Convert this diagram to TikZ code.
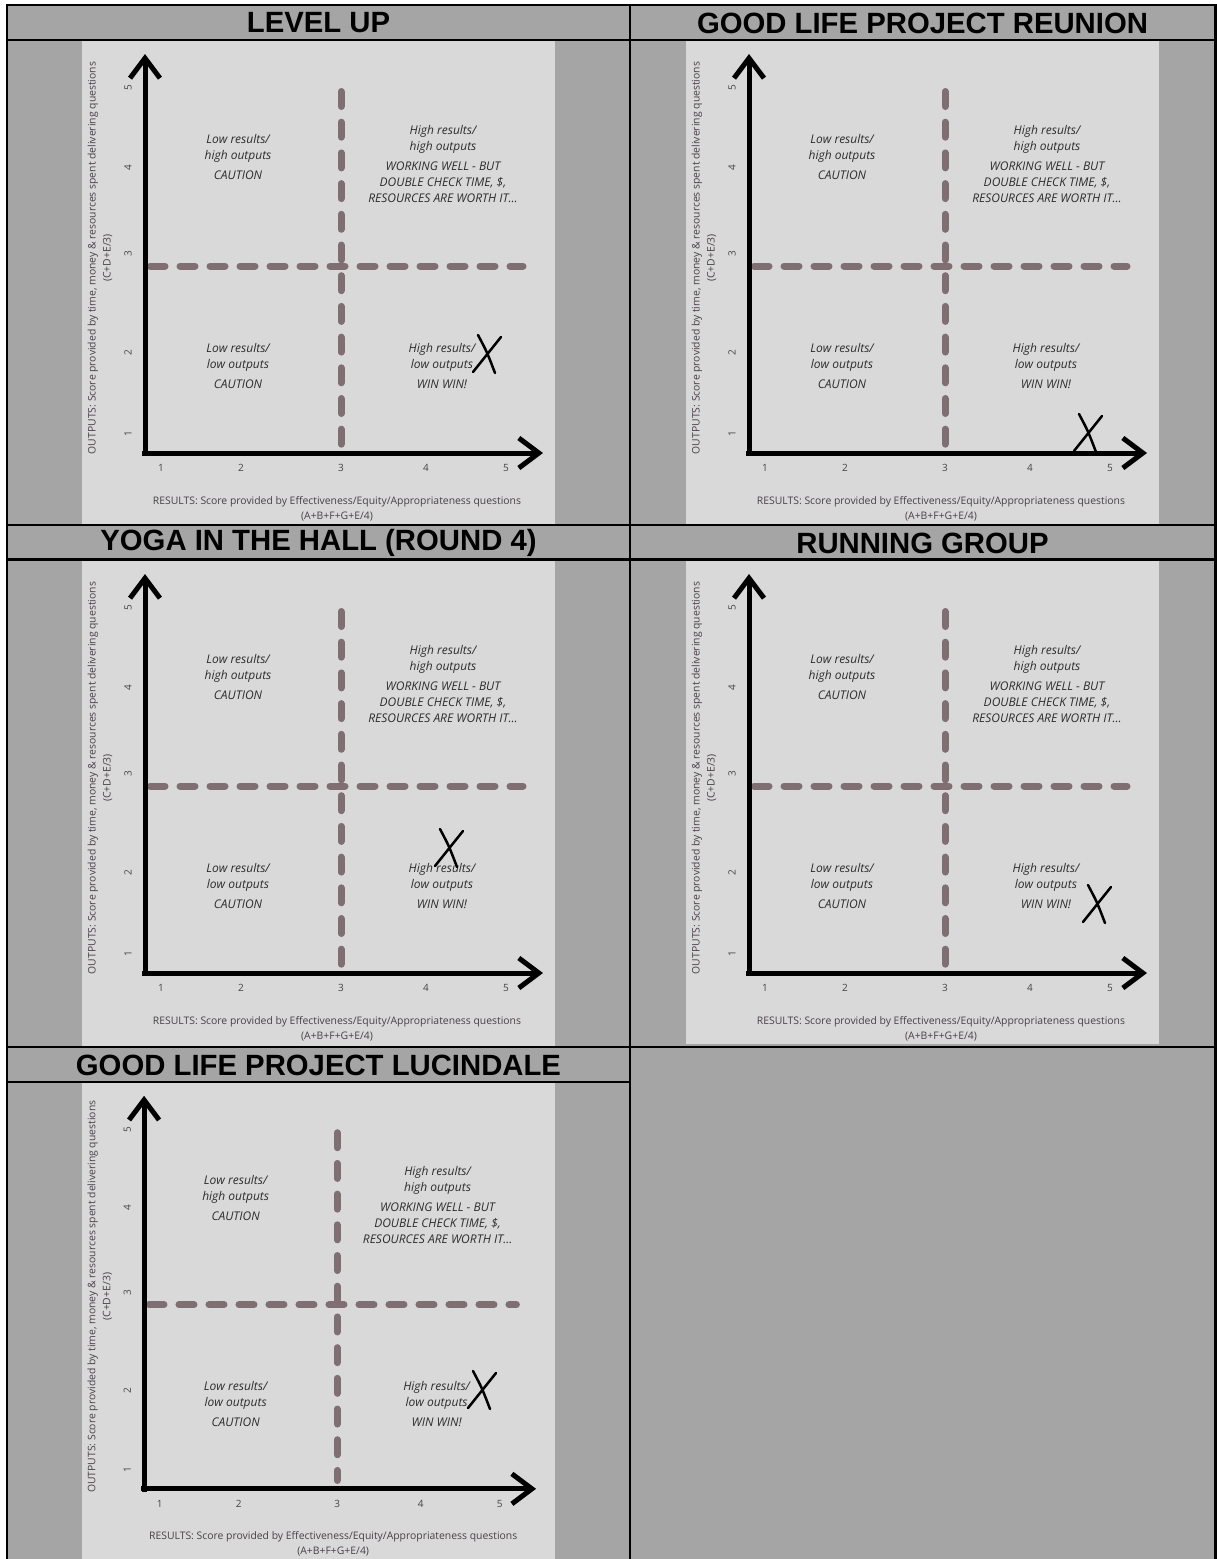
\documentclass[tikz,border=0pt]{standalone}
\usepackage{fontspec}
\setmainfont{Open Sans}
\newfontfamily\titlefont{Liberation Sans}
\usetikzlibrary{arrows.meta}

\definecolor{cellgray}{RGB}{165,165,165}
\definecolor{panelgray}{RGB}{217,217,217}
\definecolor{dashmauve}{RGB}{127,111,114}
\definecolor{labelgray}{RGB}{72,64,72}
\definecolor{textgray}{RGB}{45,45,45}

\tikzset{
  gridline/.style={line width=2.5pt, black},
  titletext/.style={font=\titlefont\bfseries\fontsize{29.3}{31}\selectfont},
  axisline/.style={line width=5pt, black, -{Straight Barb[length=20pt,width=30pt]}},
  divline/.style={line width=7pt, dashmauve, line cap=round, dash pattern=on 15pt off 15.7pt},
  quadtext/.style={font=\fontsize{12}{16}\selectfont\itshape, text=textgray, align=center},
  ticktext/.style={font=\fontsize{10}{11}\selectfont, text=labelgray},
  axistext/.style={font=\fontsize{10.4}{15}\selectfont, text=labelgray, align=center},
  xmark/.style={line width=2.5pt, line cap=round, black}
}

\begin{document}
\begin{tikzpicture}[x=1pt, y=-1pt]
    % 画布大小（按像素）
    \useasboundingbox (0,0) rectangle (1217,1559);

    % 表格底色
    \fill[cellgray] (7,5) rectangle (1215.5,1559);

    % 每个图表：编号/左上角x/左上角y/下边/缩放/X标记x/X标记y
    \foreach \k/\px/\py/\pb/\s/\mx/\my in {
        1/82/40/524/1/487/354,
        2/686/40/524/1/1088/433,
        3/82/560/1046/1/449/848,
        4/686/560/1044/1/1097/904,
        5/82/1082/1559/0.985/482/1390} {

        % 浅灰背景
        \fill[panelgray] (\px,\py) rectangle ({\px+473},\pb);

        \begin{scope}[shift={(\px,\py)}, scale=\s]
            % 分隔虚线
            \draw[divline] (259,51.5) -- (259,404.5);
            \draw[divline, dash pattern=on 15pt off 15pt] (68,226) -- (441,226);

            % 坐标轴
            \draw[axisline] (63,416) -- (63,14);
            \draw[axisline] (60,413) -- (461,413);

            % 刻度数字
            \foreach \t/\xx in {1/79,2/159,3/259,4/344,5/424}
                \node[ticktext] (xt-\k-\t) at (\xx,428) {\t};
            \foreach \t/\yy in {1/394,2/313,3/214,4/128,5/48}
                \node[ticktext, rotate=90] (yt-\k-\t) at (46,\yy) {\t};

            % 轴标题
            \node[axistext, rotate=90] (ylab-\k) at (18,218)
                {OUTPUTS: Score provided by time, money \& resources spent delivering questions\\(C+D+E/3)};
            \node[axistext] (xlab-\k) at (255,469)
                {RESULTS: Score provided by Effectiveness/Equity/Appropriateness questions\\(A+B+F+G+E/4)};

            % 四个象限的文字
            \node[quadtext, anchor=north] (ul-\k) at (156,91)
                {Low results/\\high outputs\\[4pt]CAUTION};
            \node[quadtext, anchor=north] (ur-\k) at (361,82)
                {High results/\\high outputs\\[4pt]WORKING WELL - BUT\\DOUBLE CHECK TIME, \$,\\RESOURCES ARE WORTH IT...};
            \node[quadtext, anchor=north] (ll-\k) at (156,300)
                {Low results/\\low outputs\\[4pt]CAUTION};
            \node[quadtext, anchor=north] (lr-\k) at (360,300)
                {High results/\\low outputs\\[4pt]WIN WIN!};
        \end{scope}

        % 手写的 X
        \draw[xmark] ({\mx-9},{\my-19}) .. controls ({\mx},{\my-2}) .. ({\mx+8},{\my+19});
        \draw[xmark] ({\mx+14},{\my-17}) -- ({\mx-14},{\my+18});
    }

    % 表格线
    \draw[gridline] (7,1559) -- (7,5) -- (1215.5,5) -- (1215.5,1559);
    \draw[gridline] (630,5) -- (630,1559);
    \draw[gridline] (7,40) -- (1215.5,40);
    \draw[gridline] (7,525) -- (1215.5,525);
    \draw[gridline] (7,559.5) -- (1215.5,559.5);
    \draw[gridline] (7,1047) -- (1215.5,1047);
    \draw[gridline] (7,1082) -- (630,1082);

    % 标题
    \node[titletext] (title-1) at (318.5,23) {LEVEL UP};
    \node[titletext] (title-2) at (922.5,23) {GOOD LIFE PROJECT REUNION};
    \node[titletext] (title-3) at (318.5,543) {YOGA IN THE HALL (ROUND 4)};
    \node[titletext] (title-4) at (922.5,543) {RUNNING GROUP};
    \node[titletext] (title-5) at (318.5,1065) {GOOD LIFE PROJECT LUCINDALE};

\end{tikzpicture}
\end{document}
